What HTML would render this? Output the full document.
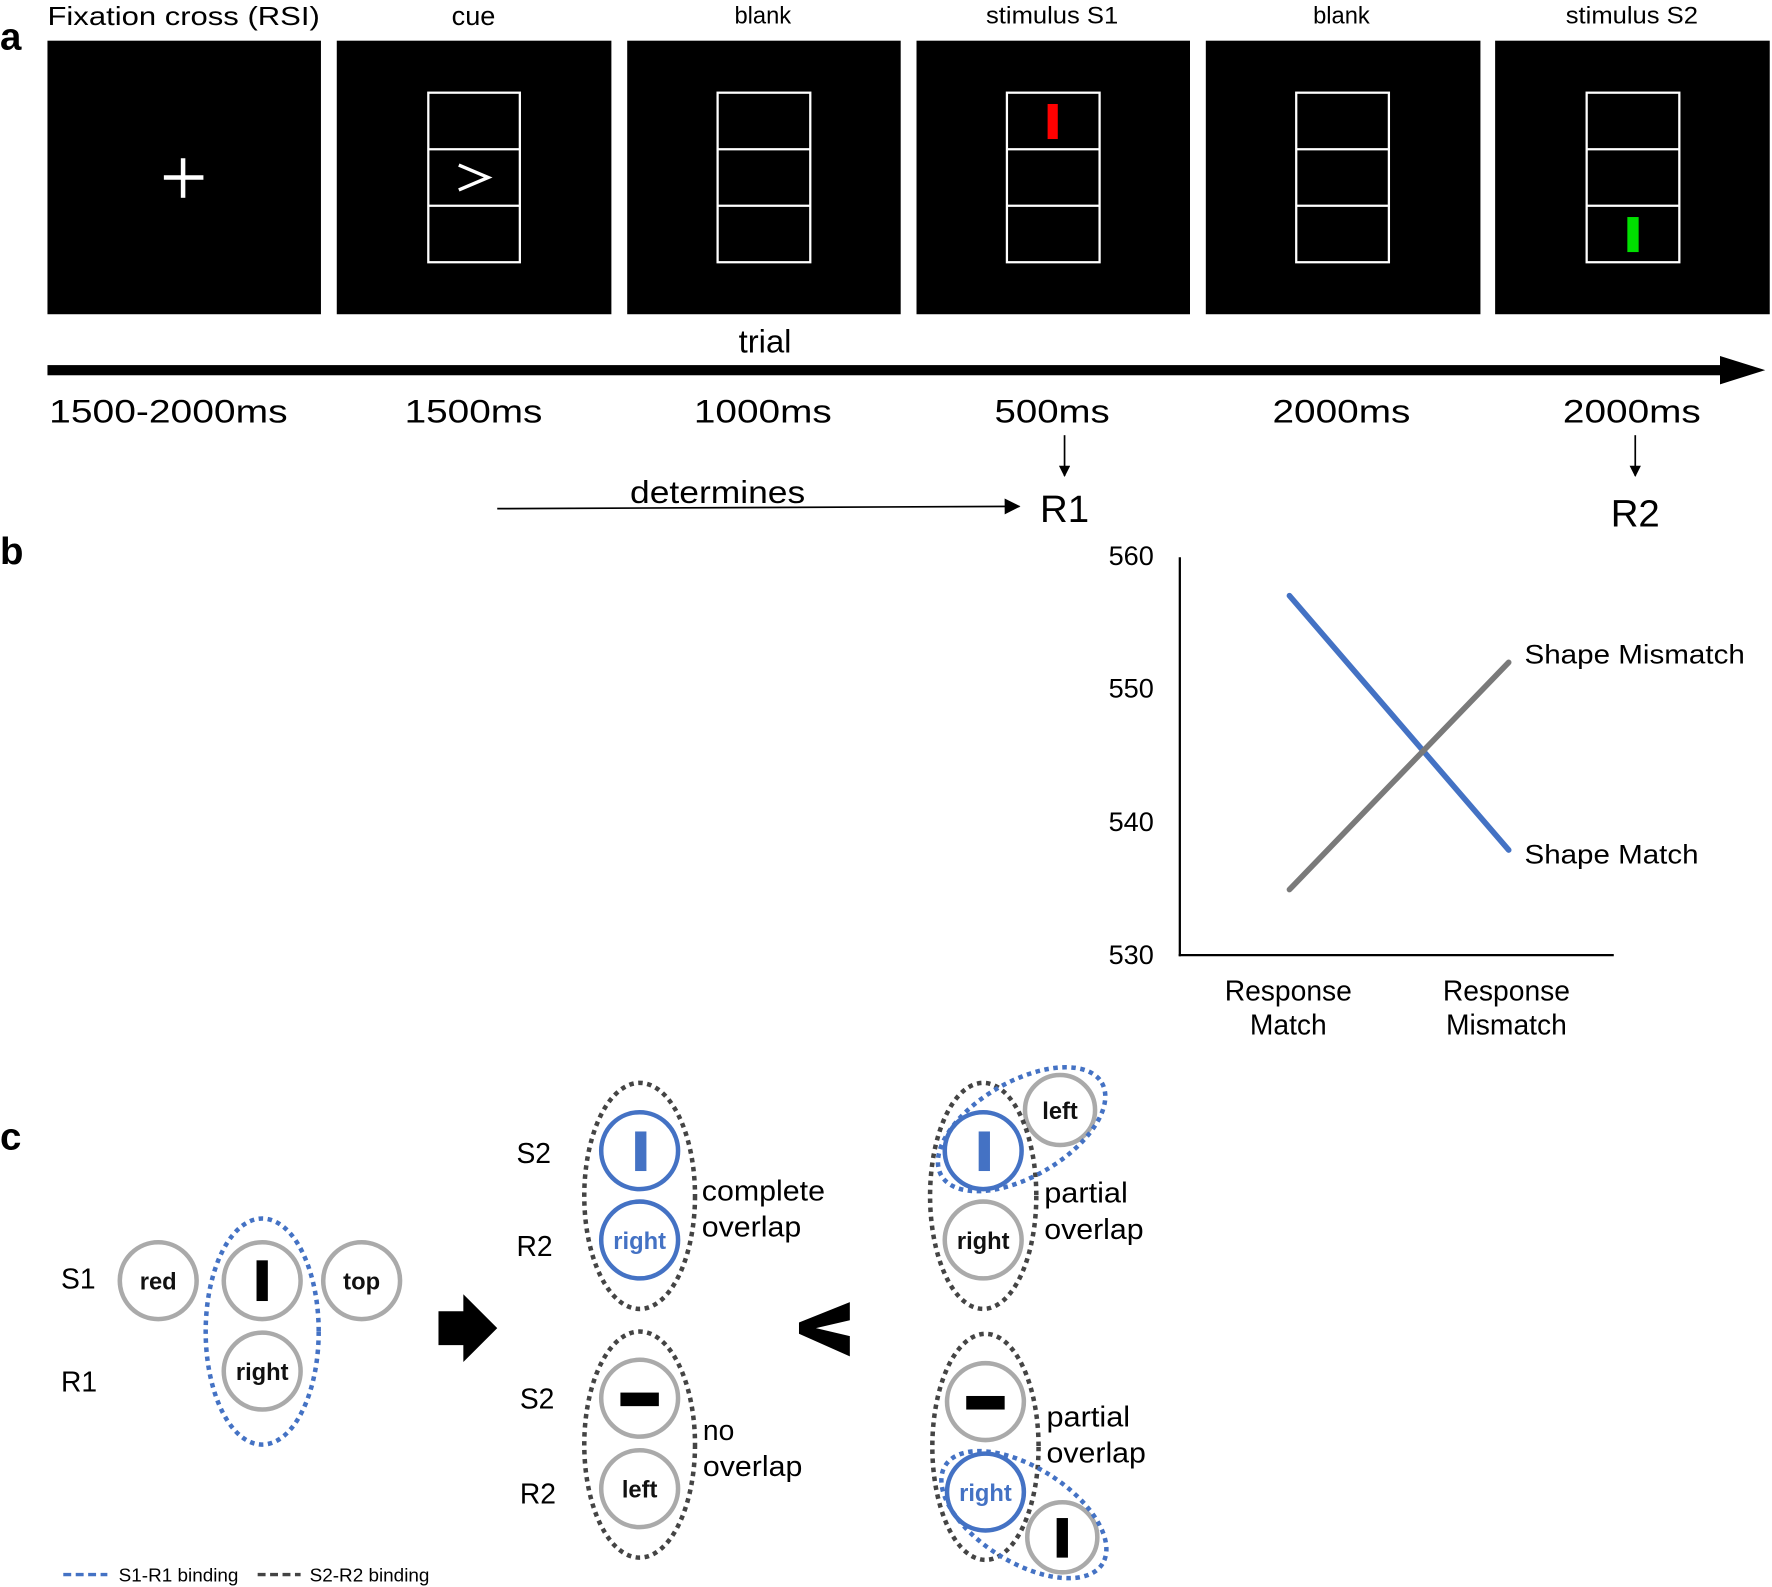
<!DOCTYPE html>
<html><head><meta charset="utf-8"><style>
html,body{margin:0;padding:0;background:#fff;}
svg{display:block;}
text{font-family:"Liberation Sans",sans-serif;}
</style></head><body>
<svg width="1772" height="1587" viewBox="0 0 1568 1404" preserveAspectRatio="none" xmlns="http://www.w3.org/2000/svg">
<defs>
<marker id="ah" markerWidth="10" markerHeight="10" refX="9" refY="5" orient="auto" markerUnits="userSpaceOnUse"><path d="M0,0 L10,5 L0,10 z" fill="#000"/></marker>
<marker id="ah2" markerWidth="14" markerHeight="14" refX="13" refY="7" orient="auto" markerUnits="userSpaceOnUse"><path d="M0,0 L14,7 L0,14 z" fill="#000"/></marker>
</defs>
<text x="0" y="44" font-size="34" font-weight="bold">a</text>
<text x="42" y="22" font-size="23" textLength="241" lengthAdjust="spacingAndGlyphs">Fixation cross (RSI)</text>
<g font-size="21" text-anchor="middle">
<text x="419" y="22" font-size="24">cue</text>
<text x="675" y="21">blank</text>
<text x="931" y="21" textLength="117" lengthAdjust="spacingAndGlyphs">stimulus S1</text>
<text x="1187" y="21">blank</text>
<text x="1444" y="21" textLength="117" lengthAdjust="spacingAndGlyphs">stimulus S2</text>
</g>
<g fill="#000">
<rect x="42" y="36" width="242" height="242"/>
<rect x="298" y="36" width="243" height="242"/>
<rect x="555" y="36" width="242" height="242"/>
<rect x="811" y="36" width="242" height="242"/>
<rect x="1067" y="36" width="243" height="242"/>
<rect x="1323" y="36" width="243" height="242"/>
</g>
<g stroke="#fff" stroke-width="2" fill="none">
<rect x="379" y="82" width="81" height="150"/><line x1="379" y1="132" x2="460" y2="132"/><line x1="379" y1="182" x2="460" y2="182"/>
<rect x="635" y="82" width="82" height="150"/><line x1="635" y1="132" x2="717" y2="132"/><line x1="635" y1="182" x2="717" y2="182"/>
<rect x="891" y="82" width="82" height="150"/><line x1="891" y1="132" x2="973" y2="132"/><line x1="891" y1="182" x2="973" y2="182"/>
<rect x="1147" y="82" width="82" height="150"/><line x1="1147" y1="132" x2="1229" y2="132"/><line x1="1147" y1="182" x2="1229" y2="182"/>
<rect x="1404" y="82" width="82" height="150"/><line x1="1404" y1="132" x2="1486" y2="132"/><line x1="1404" y1="182" x2="1486" y2="182"/>
<line x1="145" y1="157" x2="180" y2="157" stroke-width="4"/><line x1="162" y1="140" x2="162" y2="175" stroke-width="4"/>
<polyline points="406,146 432,157 406,168" stroke-width="3"/>
</g>
<rect x="927" y="92" width="9" height="31" fill="#ff0000"/>
<rect x="1440" y="192" width="10" height="31" fill="#00e000"/>
<text x="677" y="312" font-size="29" text-anchor="middle">trial</text>
<rect x="42" y="323" width="1492" height="9" fill="#000"/>
<path d="M1522,315 L1562,327.5 L1522,340 z" fill="#000"/>
<g font-size="29" text-anchor="middle">
<text x="149" y="374" textLength="211" lengthAdjust="spacingAndGlyphs">1500-2000ms</text>
<text x="419" y="374" textLength="122" lengthAdjust="spacingAndGlyphs">1500ms</text>
<text x="675" y="374" textLength="122" lengthAdjust="spacingAndGlyphs">1000ms</text>
<text x="931" y="374" textLength="102" lengthAdjust="spacingAndGlyphs">500ms</text>
<text x="1187" y="374" textLength="122" lengthAdjust="spacingAndGlyphs">2000ms</text>
<text x="1444" y="374" textLength="122" lengthAdjust="spacingAndGlyphs">2000ms</text>
</g>
<line x1="942" y1="385" x2="942" y2="421" stroke="#000" stroke-width="1.5" marker-end="url(#ah)"/>
<line x1="1447" y1="385" x2="1447" y2="421" stroke="#000" stroke-width="1.5" marker-end="url(#ah)"/>
<text x="942" y="462" font-size="34" text-anchor="middle">R1</text>
<text x="1447" y="466" font-size="34" text-anchor="middle">R2</text>
<text x="635" y="445" font-size="28" text-anchor="middle" textLength="155" lengthAdjust="spacingAndGlyphs">determines</text>
<line x1="440" y1="450" x2="902" y2="448" stroke="#000" stroke-width="1.5" marker-end="url(#ah2)"/>
<text x="0" y="499" font-size="34" font-weight="bold">b</text>
<g font-size="24" text-anchor="end">
<text x="1021" y="500">560</text>
<text x="1021" y="617">550</text>
<text x="1021" y="735">540</text>
<text x="1021" y="853">530</text>
</g>
<line x1="1044" y1="493" x2="1044" y2="846" stroke="#000" stroke-width="2"/>
<line x1="1043" y1="845" x2="1428" y2="845" stroke="#000" stroke-width="2"/>
<line x1="1141" y1="527" x2="1335" y2="752" stroke="#4472c4" stroke-width="5" stroke-linecap="round"/>
<line x1="1141" y1="787" x2="1335" y2="586" stroke="#7a7a7a" stroke-width="5" stroke-linecap="round"/>
<g font-size="24">
<text x="1349" y="587" textLength="195" lengthAdjust="spacingAndGlyphs">Shape Mismatch</text>
<text x="1349" y="764" textLength="154" lengthAdjust="spacingAndGlyphs">Shape Match</text>
</g>
<g font-size="25" text-anchor="middle">
<text x="1140" y="885">Response</text><text x="1140" y="915">Match</text>
<text x="1333" y="885">Response</text><text x="1333" y="915">Mismatch</text>
</g>
<text x="0" y="1017" font-size="34" font-weight="bold">c</text>
<g font-size="25">
<text x="54" y="1140">S1</text><text x="54" y="1231">R1</text>
<text x="457" y="1029">S2</text><text x="457" y="1111">R2</text>
<text x="460" y="1246">S2</text><text x="460" y="1330">R2</text>
<text x="621" y="1062" textLength="109" lengthAdjust="spacingAndGlyphs">complete</text><text x="621" y="1094" textLength="88" lengthAdjust="spacingAndGlyphs">overlap</text>
<text x="622" y="1274">no</text><text x="622" y="1306" textLength="88" lengthAdjust="spacingAndGlyphs">overlap</text>
<text x="924" y="1064" textLength="74" lengthAdjust="spacingAndGlyphs">partial</text><text x="924" y="1096" textLength="88" lengthAdjust="spacingAndGlyphs">overlap</text>
<text x="926" y="1262" textLength="74" lengthAdjust="spacingAndGlyphs">partial</text><text x="926" y="1294" textLength="88" lengthAdjust="spacingAndGlyphs">overlap</text>
</g>
<g fill="none" stroke-width="4">
<circle cx="140" cy="1133" r="34" stroke="#aaa"/>
<circle cx="232" cy="1133" r="34" stroke="#aaa"/>
<circle cx="320" cy="1133" r="34" stroke="#aaa"/>
<circle cx="232" cy="1213" r="34" stroke="#aaa"/>
<circle cx="566" cy="1018" r="34" stroke="#4472c4"/>
<circle cx="566" cy="1097" r="34" stroke="#4472c4"/>
<circle cx="566" cy="1237" r="34" stroke="#aaa"/>
<circle cx="566" cy="1317" r="34" stroke="#aaa"/>
<circle cx="870" cy="1018" r="34" stroke="#4472c4"/>
<circle cx="870" cy="1097" r="34" stroke="#aaa"/>
<circle cx="938" cy="982" r="31" stroke="#aaa"/>
<circle cx="872" cy="1240" r="34" stroke="#aaa"/>
<circle cx="872" cy="1320" r="34" stroke="#4472c4"/>
<circle cx="940" cy="1360" r="31" stroke="#aaa"/>
</g>
<g fill="none" stroke-width="4" stroke-dasharray="4 4">
<ellipse cx="232" cy="1178" rx="50" ry="100" stroke="#4472c4"/>
<ellipse cx="566" cy="1058" rx="49" ry="100" stroke="#444"/>
<ellipse cx="566" cy="1278" rx="49" ry="100" stroke="#444"/>
<ellipse cx="870" cy="1058" rx="47" ry="100" stroke="#444"/>
<ellipse cx="872" cy="1280" rx="47" ry="100" stroke="#444"/>
<ellipse cx="904" cy="999" rx="82" ry="42" transform="rotate(-30 904 999)" stroke="#4472c4"/>
<ellipse cx="906" cy="1340" rx="82" ry="42" transform="rotate(32 906 1340)" stroke="#4472c4"/>
</g>
<g fill="#000">
<rect x="227" y="1115" width="10" height="36"/>
<rect x="562" y="1001" width="10" height="35" fill="#4472c4"/>
<rect x="549" y="1232" width="34" height="12"/>
<rect x="866" y="1001" width="10" height="35" fill="#4472c4"/>
<rect x="855" y="1235" width="34" height="12"/>
<rect x="935" y="1343" width="10" height="35"/>
<path d="M388,1160 L410,1160 L410,1145 L440,1175 L410,1205 L410,1190 L388,1190 z"/>
<path d="M752,1152 L752,1168 L722,1175 L752,1182 L752,1200 L707,1180 L707,1170 z"/>
</g>
<g font-size="21" font-weight="bold" text-anchor="middle" fill="#111">
<text x="140" y="1141">red</text>
<text x="320" y="1141">top</text>
<text x="232" y="1221">right</text>
<text x="566" y="1105" fill="#4472c4">right</text>
<text x="566" y="1325">left</text>
<text x="870" y="1105">right</text>
<text x="938" y="990">left</text>
<text x="872" y="1328" fill="#4472c4">right</text>
</g>
<line x1="56" y1="1393" x2="95" y2="1393" stroke="#4472c4" stroke-width="3" stroke-dasharray="7 4"/>
<text x="105" y="1399" font-size="16" textLength="106" lengthAdjust="spacingAndGlyphs">S1-R1 binding</text>
<line x1="228" y1="1393" x2="266" y2="1393" stroke="#444" stroke-width="3" stroke-dasharray="7 4"/>
<text x="274" y="1399" font-size="16" textLength="106" lengthAdjust="spacingAndGlyphs">S2-R2 binding</text>
</svg>
</body></html>
